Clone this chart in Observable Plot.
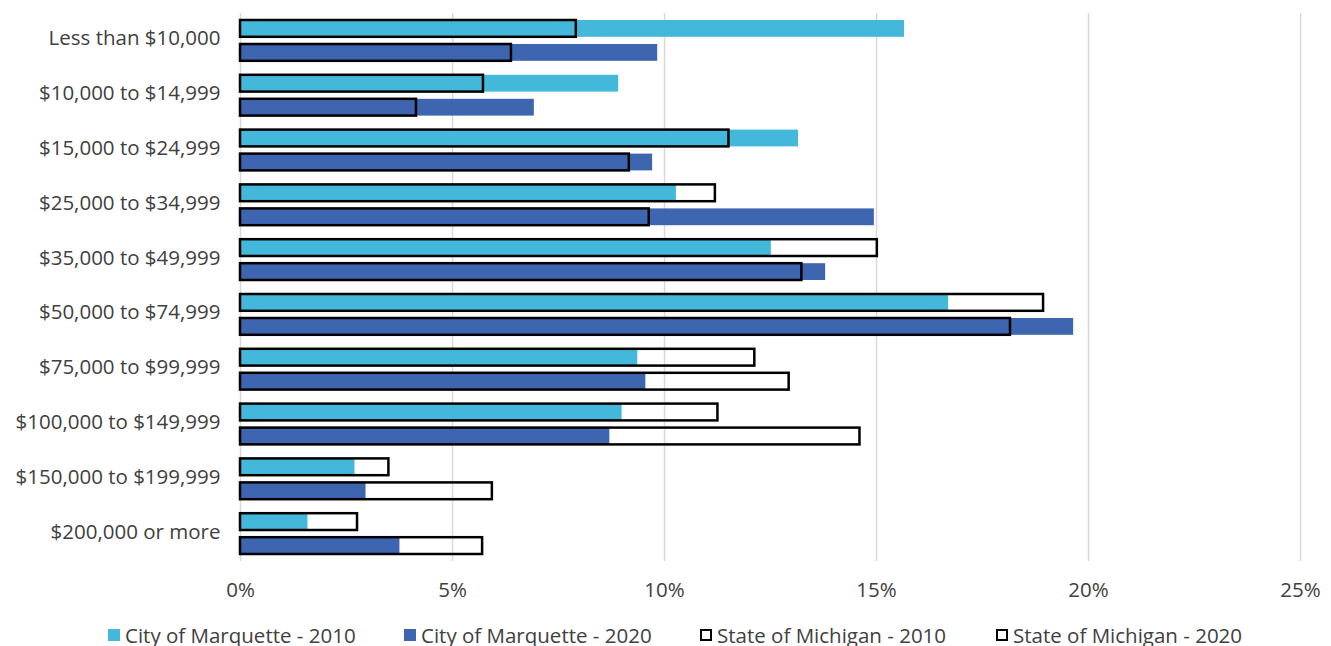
<!DOCTYPE html>
<html>
<head>
<meta charset="utf-8">
<script src="https://cdn.jsdelivr.net/npm/d3@7"></script>
<script src="https://cdn.jsdelivr.net/npm/@observablehq/plot@0.6"></script>
<style>
  html, body { margin: 0; padding: 0; background: #fff; overflow: hidden; }
  #legend { display: flex; padding-left: 108px; margin-top: 11px; height: 24px; line-height: 24px;
            font-family: "Open Sans", sans-serif; font-size: 20.5px; color: #404040; white-space: nowrap; }
  .item { width: 296px; display: flex; align-items: center; }
  .sw { width: 12px; height: 12px; margin-right: 5px; box-sizing: border-box; flex: none; }
</style>
</head>
<body>
<div id="chart"></div>
<div id="legend"></div>
<script>
const categories = [
  "Less than $10,000", "$10,000 to $14,999", "$15,000 to $24,999", "$25,000 to $34,999",
  "$35,000 to $49,999", "$50,000 to $74,999", "$75,000 to $99,999", "$100,000 to $149,999",
  "$150,000 to $199,999", "$200,000 or more"
];
const marquette2010 = [15.66, 8.92, 13.16, 10.28, 12.52, 16.70, 9.37, 9.00, 2.70, 1.59];
const marquette2020 = [9.84, 6.93, 9.72, 14.95, 13.80, 19.65, 9.56, 8.71, 2.96, 3.76];
const michigan2010  = [7.92, 5.73, 11.52, 11.20, 15.02, 18.94, 12.13, 11.26, 3.50, 2.76];
const michigan2020  = [6.39, 4.15, 9.17, 9.64, 13.24, 18.16, 12.94, 14.61, 5.94, 5.71];
const xTicks = [0, 5, 10, 15, 20, 25];
const seriesNames = ["City of Marquette - 2010", "City of Marquette - 2020", "State of Michigan - 2010", "State of Michigan - 2020"];

const rows = categories.map((c, i) => ({
  category: c, m2010: marquette2010[i], m2020: marquette2020[i], s2010: michigan2010[i], s2020: michigan2020[i]
}));

const light = "#44b8da", dark = "#3e65b0";
const top2010 = {insetTop: 7, insetBottom: 31};
const bot2020 = {insetTop: 31, insetBottom: 7};

const chart = Plot.plot({
  width: 1331, height: 612,
  marginLeft: 240, marginRight: 31, marginTop: 13, marginBottom: 51,
  style: {fontFamily: "'Open Sans', sans-serif", fontSize: "20.5px", color: "#404040", background: "white"},
  x: {domain: [0, 25], ticks: xTicks, tickFormat: d => d + "%", label: null},
  y: {domain: categories, padding: 0, round: false, label: null},
  marks: [
    Plot.ruleX(xTicks, {stroke: "#d9d9d9", strokeWidth: 1.5}),
    Plot.barX(rows, {x: "m2010", y: "category", fill: light, ...top2010}),
    Plot.barX(rows, {x: "m2020", y: "category", fill: dark, ...bot2020}),
    Plot.barX(rows, {x: "s2010", y: "category", fill: "none", stroke: "black", strokeWidth: 2.5, ...top2010}),
    Plot.barX(rows, {x: "s2020", y: "category", fill: "none", stroke: "black", strokeWidth: 2.5, ...bot2020}),
    Plot.axisX({ticks: xTicks, tickFormat: d => d + "%", tickSize: 0, tickPadding: 21, fontSize: 20.5}),
    Plot.axisY({tickSize: 0, tickPadding: 20, fontSize: 20.5, dy: -2})
  ]
});
document.getElementById("chart").appendChild(chart);

const legend = document.getElementById("legend");
const swStyles = [
  `background:${light}`, `background:${dark}`,
  "background:#fff;border:2px solid #000", "background:#fff;border:2px solid #000"
];
seriesNames.forEach((name, i) => {
  const item = document.createElement("div");
  item.className = "item";
  const sw = document.createElement("span");
  sw.className = "sw";
  sw.setAttribute("style", swStyles[i]);
  const t = document.createElement("span");
  t.textContent = name;
  item.appendChild(sw); item.appendChild(t);
  legend.appendChild(item);
});
</script>
</body>
</html>
